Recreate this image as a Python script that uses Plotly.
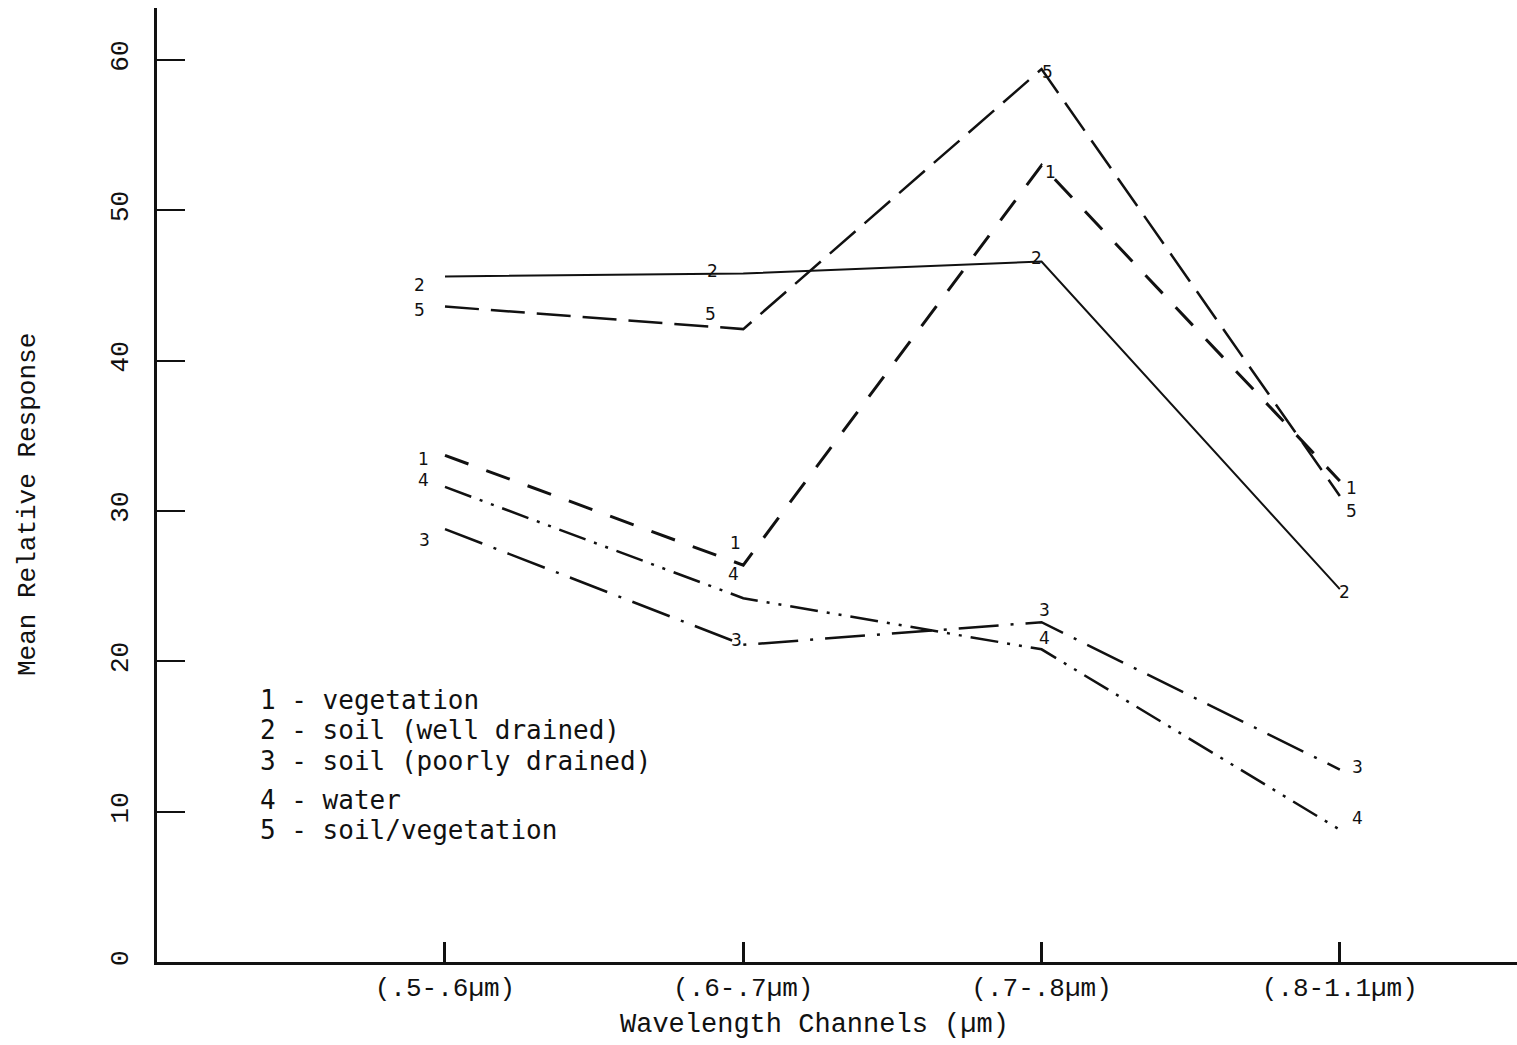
import plotly.graph_objects as go

# Wavelength channels (x categories)
channels = ["(.5-.6\u00b5m)", "(.6-.7\u00b5m)", "(.7-.8\u00b5m)", "(.8-1.1\u00b5m)"]
channel_pos = [1, 2, 3, 4]

# Mean relative response per surface class
vegetation = [33.7, 26.4, 53.0, 32.0]
soil_well_drained = [45.6, 45.8, 46.6, 24.8]
soil_poorly_drained = [28.8, 21.1, 22.6, 12.8]
water = [31.6, 24.2, 20.8, 8.8]
soil_vegetation = [43.6, 42.1, 59.4, 31.0]

class_ids = ["1", "2", "3", "4", "5"]
class_names = ["vegetation", "soil (well drained)", "soil (poorly drained)",
               "water", "soil/vegetation"]
y_ticks = [0, 10, 20, 30, 40, 50, 60]

series = [vegetation, soil_well_drained, soil_poorly_drained, water, soil_vegetation]

# line styling per class (typewritten-report look)
styles = [
    dict(dash="25px,19px", width=3),
    dict(dash="solid", width=2),
    dict(dash="40px,12px,3px,12px", width=2.5),
    dict(dash="28px,9px,3px,9px,3px,9px", width=2.5),
    dict(dash="34px,12px", width=2.5),
]

# pixel offsets (dx right, dy down) of each number tag from its point
tag_offsets = [
    [(-21, 4), (-8, -22), (9, 7), (12, 7)],
    [(-25, 9), (-31, -2), (-5, -3), (5, 3)],
    [(-20, 11), (-7, -5), (3, -12), (18, -3)],
    [(-21, -7), (-10, -24), (3, -11), (18, -12)],
    [(-25, 3), (-33, -15), (6, 3), (12, 15)],
]

INK = "#111111"
MONO = "Liberation Mono"

fig = go.Figure()
for vals, st in zip(series, styles):
    fig.add_trace(go.Scatter(
        x=channel_pos, y=vals, mode="lines",
        line=dict(color=INK, width=st["width"], dash=st["dash"]),
        hoverinfo="skip", cliponaxis=False,
    ))

annotations = []
for cid, vals, offs in zip(class_ids, series, tag_offsets):
    for xp, v, (dx, dy) in zip(channel_pos, vals, offs):
        annotations.append(dict(
            x=xp, y=v, xref="x", yref="y", text=cid, showarrow=False,
            xshift=dx, yshift=-dy,
            font=dict(family="DejaVu Sans", size=17, color=INK),
        ))

# key block
key_y = [0.2746, 0.2432, 0.2107, 0.1698, 0.1384]
for cid, name, ky in zip(class_ids, class_names, key_y):
    annotations.append(dict(
        x=0.0743, y=ky, xref="paper", yref="paper", xanchor="left", yanchor="middle",
        text=f"{cid} - {name}", showarrow=False,
        font=dict(family="DejaVu Sans Mono", size=26, color=INK),
    ))

# axis titles
annotations.append(dict(
    x=0.4838, y=-0.066, xref="paper", yref="paper", xanchor="center", yanchor="middle",
    text="Wavelength Channels (\u00b5m)", showarrow=False,
    font=dict(family=MONO, size=27, color=INK),
))
annotations.append(dict(
    x=-0.0949, y=0.480, xref="paper", yref="paper", xanchor="center", yanchor="middle",
    text="Mean Relative Response", textangle=-90, showarrow=False,
    font=dict(family=MONO, size=26, color=INK),
))

fig.update_layout(
    width=1517, height=1045,
    margin=dict(l=157, r=0, t=8, b=83),
    plot_bgcolor="white", paper_bgcolor="white",
    showlegend=False,
    annotations=annotations,
    xaxis=dict(
        range=[0.0345, 4.594], tickvals=channel_pos, ticktext=channels,
        ticks="inside", ticklen=20, tickwidth=3, tickcolor=INK,
        showline=True, linewidth=3, linecolor=INK,
        showgrid=False, zeroline=False,
        tickfont=dict(family=MONO, size=26, color=INK),
        ticklabelstandoff=0,
    ),
    yaxis=dict(
        range=[0, 63.46], tickvals=y_ticks, tickangle=-90,
        ticks="inside", ticklen=28, tickwidth=2, tickcolor=INK,
        showline=True, linewidth=3, linecolor=INK,
        showgrid=False, zeroline=False,
        tickfont=dict(family=MONO, size=26, color=INK),
        ticklabelstandoff=16,
    ),
)

fig.write_html("out.html")
